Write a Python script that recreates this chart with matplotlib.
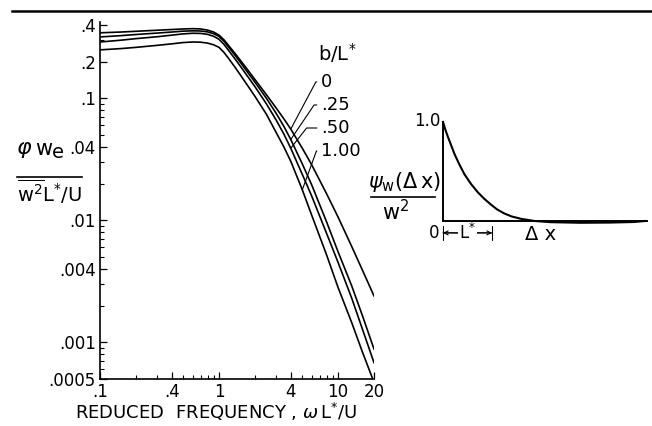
import numpy as np
import matplotlib
matplotlib.use('Agg')
import matplotlib.pyplot as plt
from matplotlib.lines import Line2D
from matplotlib.ticker import FixedLocator, NullFormatter, LogLocator

# reduced frequency, omega L*/U
freq = [0.1, 0.15, 0.2, 0.3, 0.4, 0.5, 0.6, 0.7, 0.8, 0.9, 1.0, 1.1, 1.2, 1.35,
        1.5, 1.75, 2.0, 2.5, 3.0, 3.5, 4.0, 5.0, 6.0, 8.0, 10, 13, 16, 20]

# spectra for b/L* = 0, .25, .50, 1.00
spec_0 = [.345, .350, .355, .362, .367, .371, .373, .371, .363, .350, .330, .302, .272, .236,
          .207, .170, .143, .107, .084, .068, .056, .039, .0285, .0165, .0106, .0061, .0039, .0024]
spec_25 = [.319, .327, .334, .343, .350, .356, .358, .357, .351, .339, .322, .294, .264, .228,
           .199, .162, .136, .100, .076, .059, .046, .029, .0195, .0097, .0055, .0029, .00165, .00088]
spec_50 = [.290, .300, .309, .320, .330, .338, .342, .341, .335, .323, .305, .277, .248, .213,
           .185, .150, .125, .090, .067, .051, .039, .0238, .0158, .0078, .0045, .0023, .00128, .00068]
spec_100 = [.250, .256, .262, .272, .280, .287, .290, .289, .284, .275, .262, .238, .213, .182,
            .157, .126, .104, .074, .053, .040, .0305, .0178, .0110, .0052, .0028, .00145, .00083, .00047]

curves = [spec_0, spec_25, spec_50, spec_100]
curve_labels = ['0', '.25', '.50', '1.00']

x_ticks = [0.1, 0.4, 1, 4, 10, 20]
x_ticklabels = ['.1', '.4', '1', '4', '10', '20']
y_ticks = [0.0005, 0.001, 0.004, 0.01, 0.04, 0.1, 0.2, 0.4]
y_ticklabels = ['.0005', '.001', '.004', '.01', '.04', '.1', '.2', '.4']

# autocorrelation sketch (inset), dx in units of L*
dx = [0.0, 0.05, 0.1, 0.17, 0.24, 0.34, 0.44, 0.57, 0.71, 0.84, 0.98, 1.1,
      1.25, 1.4, 1.59, 1.87, 2.2, 2.8, 3.4, 3.9, 4.12]
psi = [1.0, 0.92, 0.85, 0.76, 0.67, 0.565, 0.47, 0.375, 0.29, 0.225, 0.165, 0.118,
       0.076, 0.046, 0.022, 0.0, -0.012, -0.018, -0.016, -0.01, 0.0]
L_star = 1.0

W, H = 652, 426
def fx(x):
    return x / W
def fy(y):
    return 1 - y / H

fig = plt.figure(figsize=(W / 100, H / 100), dpi=100)

# main plot
ax = fig.add_axes([fx(100), fy(379), 274 / W, (379 - 22) / H])
for c in curves:
    ax.plot(freq, c, color='black', lw=1.2)
ax.set_xscale('log')
ax.set_yscale('log')
ax.set_xlim(0.1, 20)
ax.set_ylim(0.0005, 0.423)
for s in ['top', 'right']:
    ax.spines[s].set_visible(False)
for s in ['left', 'bottom']:
    ax.spines[s].set_linewidth(1.2)
ax.xaxis.set_major_locator(FixedLocator(x_ticks))
ax.set_xticklabels(x_ticklabels)
ax.yaxis.set_major_locator(FixedLocator(y_ticks))
ax.set_yticklabels(y_ticklabels)
ax.xaxis.set_minor_locator(LogLocator(base=10, subs=np.arange(2, 10)))
ax.yaxis.set_minor_locator(LogLocator(base=10, subs=np.arange(2, 10)))
ax.xaxis.set_minor_formatter(NullFormatter())
ax.yaxis.set_minor_formatter(NullFormatter())
ax.tick_params(which='major', direction='in', length=5, width=0.9, labelsize=12)
ax.tick_params(which='minor', direction='in', length=3, width=0.8)
ax.tick_params(axis='x', which='major', pad=3)
ax.tick_params(axis='y', which='major', pad=3)

# b/L* labels with leader lines
fig.text(fx(337), fy(53), r'b/L$^{*}$', fontsize=14, ha='center', va='center')
label_y = [82, 105, 128, 151]
target_idx = [20, 20, 20, 21]
angles = [62, 56, 52, 70]
for lab, c, ly, i, ang in zip(curve_labels, curves, label_y, target_idx, angles):
    ax.annotate(lab, xy=(freq[i], c[i]), xycoords='data',
                xytext=(fx(321), fy(ly)), textcoords='figure fraction',
                fontsize=13, ha='left', va='center',
                arrowprops=dict(arrowstyle='-', lw=0.8, color='black',
                                connectionstyle='angle,angleA=0,angleB=%d,rad=0' % ang,
                                relpos=(0, 0.5), shrinkA=1, shrinkB=0))

# axis titles
fig.text(fx(216), fy(412), r'REDUCED  FREQUENCY , $\omega\,$L$^{*}$/U',
         fontsize=13, ha='center', va='center')
fig.text(fx(16), fy(154), r'$\varphi$', fontsize=16, ha='left', va='baseline')
fig.text(fx(35), fy(155), 'w', fontsize=15, ha='left', va='baseline')
fig.text(fx(52), fy(158), 'e', fontsize=14, ha='left', va='baseline')
fig.add_artist(Line2D([fx(17), fx(82)], [fy(177), fy(177)], lw=1.2, color='black'))
fig.text(fx(50), fy(192), r'$\overline{\mathrm{w}^2}\mathrm{L}^{*}/\mathrm{U}$',
         fontsize=14, ha='center', va='center')

# rule across the top of the page
fig.add_artist(Line2D([fx(12), 1.0], [fy(11), fy(11)], lw=1.8, color='black'))

# inset correlation sketch
axin = fig.add_axes([fx(443), fy(221), (647 - 443) / W, 99 / H])
axin.plot(dx, psi, color='black', lw=1.5, clip_on=False)
axin.set_xlim(0, 4.16)
axin.set_ylim(0, 1)
for s in ['top', 'right']:
    axin.spines[s].set_visible(False)
for s in ['left', 'bottom']:
    axin.spines[s].set_linewidth(1.4)
axin.set_xticks([])
axin.set_yticks([])
axin.patch.set_alpha(0)

fig.text(fx(441), fy(121), '1.0', fontsize=12, ha='right', va='center')
fig.text(fx(434), fy(233), '0', fontsize=12, ha='center', va='center')
axin.annotate('', xy=(0, -0.12), xytext=(L_star, -0.12), xycoords='data',
              arrowprops=dict(arrowstyle='<->', lw=0.8, color='black',
                              shrinkA=0, shrinkB=0, mutation_scale=7),
              annotation_clip=False)
axin.annotate('', xy=(0, -0.12), xytext=(L_star, -0.12), xycoords='data',
              arrowprops=dict(arrowstyle='|-|,widthA=0.5,widthB=0.5', lw=0.8,
                              color='black', shrinkA=0, shrinkB=0),
              annotation_clip=False)
axin.text(L_star / 2, -0.12, r'L$^{*}$', fontsize=12, ha='center', va='center',
          bbox=dict(facecolor='white', edgecolor='none', pad=0.5))
fig.text(fx(541), fy(235), 'Δ x', fontsize=14, ha='center', va='center')

fig.text(fx(404), fy(182), r'$\psi_{\mathrm{w}}(\Delta\,\mathrm{x})$', fontsize=15,
         ha='center', va='center')
fig.add_artist(Line2D([fx(371), fx(435)], [fy(197), fy(197)], lw=1.2, color='black'))
fig.text(fx(396), fy(212), r'$\mathrm{w}^2$', fontsize=15, ha='center', va='center')

fig.savefig('out.png', dpi=100)
